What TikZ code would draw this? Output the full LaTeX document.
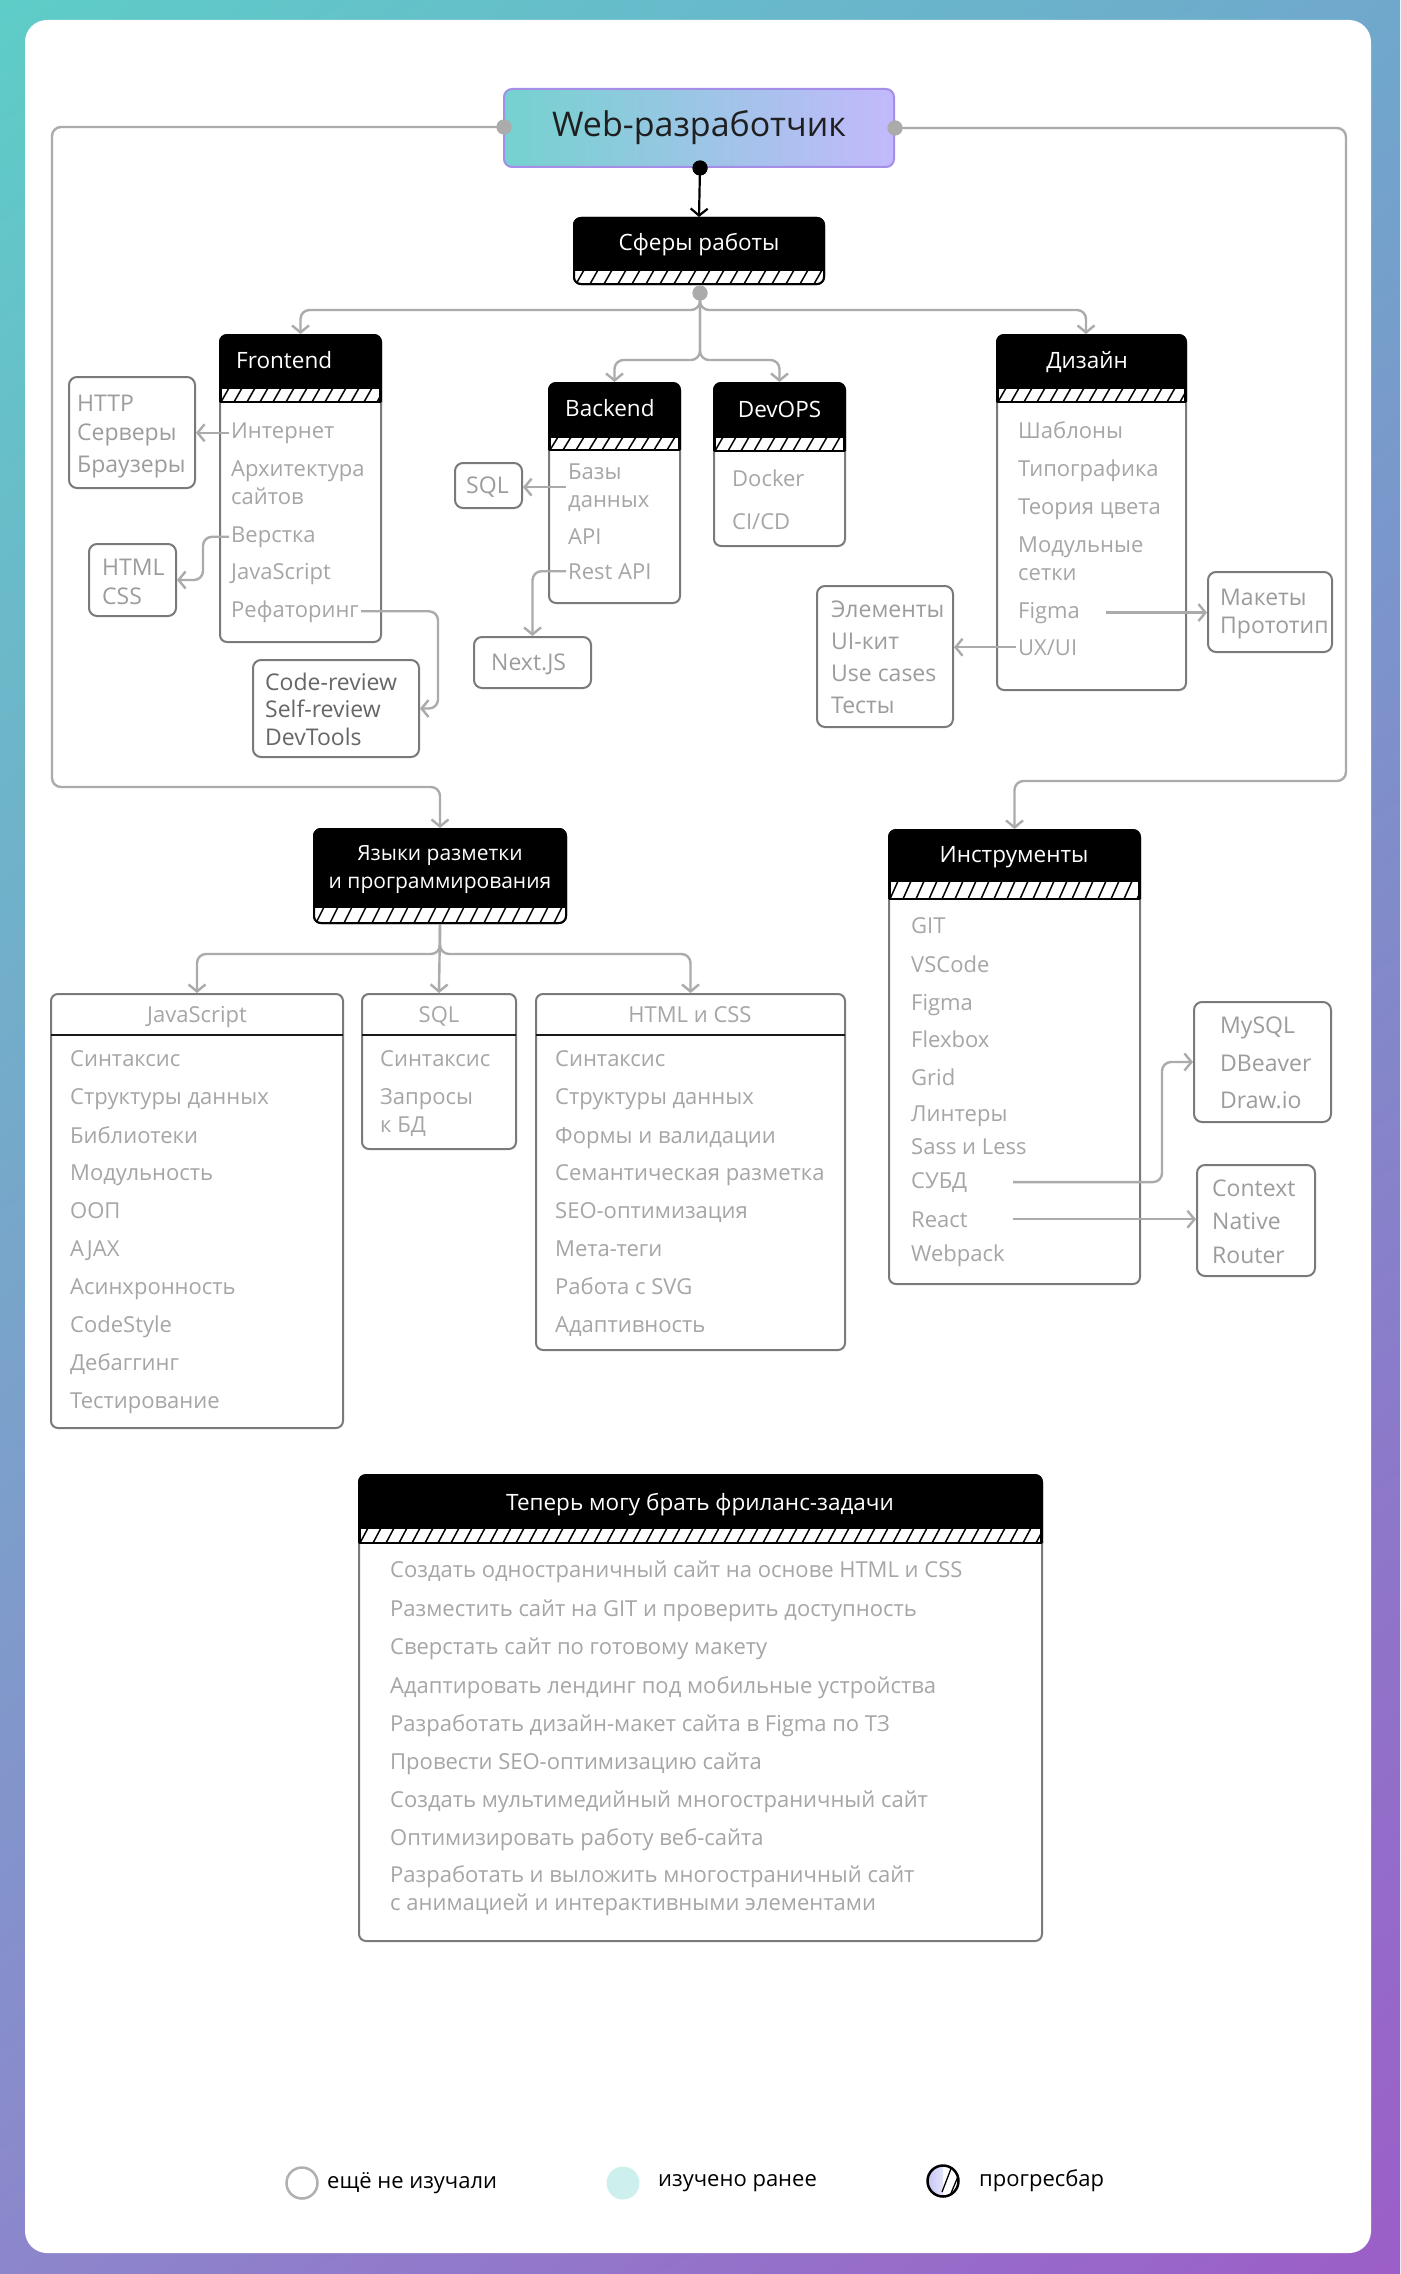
\documentclass[tikz,border=0pt]{standalone}
\usepackage{fontspec}
\setmainfont{Open Sans}
\newfontfamily\legendfont{Open Sans}
\usetikzlibrary{arrows.meta,calc,shadings}
\definecolor{bgTL}{HTML}{5ECDC8}
\definecolor{bgTR}{HTML}{70A8CC}
\definecolor{bgBL}{HTML}{8C86CC}
\definecolor{bgBR}{HTML}{9C5EC8}
\definecolor{itemc}{HTML}{A6A6A6}
\definecolor{sidec}{HTML}{9C9C9C}
\definecolor{darkc}{HTML}{666666}
\definecolor{boxc}{HTML}{7A7A7A}
\definecolor{connc}{HTML}{ABABAB}
\definecolor{titleL}{HTML}{74D2CF}
\definecolor{titleR}{HTML}{C3B9FC}
\definecolor{titleB}{HTML}{A48EE8}
\definecolor{learned}{HTML}{CDEFEE}
\definecolor{prog}{HTML}{C2C2F6}
\definecolor{legg}{HTML}{B0B0B0}

\tikzset{
  conn/.style={draw=connc, line width=2.4pt, rounded corners=9pt, -{Straight Barb[length=7pt,width=17pt]}},
  itm/.style={text=itemc, font=\fontsize{22}{26}\selectfont, inner sep=2pt, anchor=base west, xshift=-3pt},
  sidetxt/.style={itm, text=sidec, font=\fontsize{23}{27}\selectfont},
  cardtitle/.style={text=itemc, font=\fontsize{22}{26}\selectfont, inner sep=2pt, anchor=base},
  htxt/.style={text=white, font=\fontsize{22.5}{27}\selectfont, inner sep=0pt, anchor=base},
  cardnode/.style={rectangle, rounded corners=7pt, line width=2pt, fill=white, inner sep=0pt},
  sidebox/.style={rectangle, rounded corners=8pt, draw=boxc, line width=2pt, fill=white, inner sep=0pt},
  dotnode/.style={circle, inner sep=0pt, minimum size=15pt},
  legtxt/.style={anchor=west, inner sep=0pt, font=\legendfont\fontsize{22}{26}\selectfont, text=black},
}

% side box: name, x1, y1, x2, y2
\newcommand\sidebx[5]{%
  \node[sidebox, minimum width={(#4-#2)*1pt}, minimum height={(#5-#3)*1pt}] (#1) at ({(#2+#4)/2},{(#3+#5)/2}) {};}
% plain card with dark header line: name, x1, y1, x2, y2, line y
\newcommand\plaincard[6]{%
  \node[cardnode, draw=boxc, minimum width={(#4-#2)*1pt}, minimum height={(#5-#3)*1pt}] (#1) at ({(#2+#4)/2},{(#3+#5)/2}) {};
  \draw[line width=2.6pt, black!90] (#2,#6) -- (#4,#6);}
% header card: name, x1, y1, x2, y2, header bottom, hatch bottom
\newcommand\hcard[7]{%
  \node[cardnode, draw=boxc, minimum width={(#4-#2)*1pt}, minimum height={(#5-#3)*1pt}] (#1) at ({(#2+#4)/2},{(#3+#5)/2}) {};
  \begin{scope}
    \clip[rounded corners=7pt] (#2,#3) rectangle (#4,#5);
    \fill[black] (#2,#3) rectangle (#4,#6);
    \fill[white] (#2,#6) rectangle (#4,#7);
    \pgfmathsetmacro\hsA{#2-12}\pgfmathsetmacro\hsB{#2+1}
    \foreach \hx in {\hsA,\hsB,...,#4} \draw[line width=1.5pt] (\hx,#7) -- (\hx+8,#6);
    \draw[line width=2.2pt] (#2,#6) -- (#4,#6) (#2,#7) -- (#4,#7);
    \draw[line width=4pt] (#2,#3) -- (#2,#7) (#4,#3) -- (#4,#7);
  \end{scope}
  \draw[line width=2pt, rounded corners=7pt] (#2,#7) -- (#2,#3) -- (#4,#3) -- (#4,#7);}
% black card with hatch at bottom: name, x1, y1, x2, y2, header bottom
\newcommand\bcard[6]{%
  \node[cardnode, fill=black, draw=black, minimum width={(#4-#2)*1pt}, minimum height={(#5-#3)*1pt}] (#1) at ({(#2+#4)/2},{(#3+#5)/2}) {};
  \begin{scope}
    \clip[rounded corners=7pt] (#2,#3) rectangle (#4,#5);
    \fill[white] (#2,#6) rectangle (#4,#5);
    \pgfmathsetmacro\hsA{#2-12}\pgfmathsetmacro\hsB{#2+2}
    \foreach \hx in {\hsA,\hsB,...,#4} \draw[line width=1.5pt] (\hx,#5) -- (\hx+8,#6);
    \draw[line width=2.2pt] (#2,#6) -- (#4,#6);
  \end{scope}
  \draw[line width=2pt, rounded corners=7pt] (#2,#3) rectangle (#4,#5);}
\newcommand\itm[4]{\node[itm] (#1) at (#2,#3) {#4};}
\newcommand\stx[4]{\node[sidetxt] (#1) at (#2,#3) {#4};}

\begin{document}
\begin{tikzpicture}[x=1pt,y=-1pt]
\useasboundingbox (0,0) rectangle (1400,2274);
\shade[upper left=bgTL, upper right=bgTR, lower left=bgBL, lower right=bgBR] (0,0) rectangle (1400,2274);
\fill[white, rounded corners=22pt] (25,20) rectangle (1371,2253);

% ---------- title ----------
\node[rectangle, rounded corners=8pt, left color=titleL, right color=titleR, draw=titleB, line width=2pt,
      minimum width=390pt, minimum height=78pt, inner sep=0pt, font=\fontsize{34}{40}\selectfont, text=black!88]
      (web) at (699,128) {Web-разработчик};

% ---------- level 1 ----------
\bcard{sf}{574}{218}{824}{284}{270}
\node[htxt] (sfT) at (699,251) {Сферы работы};

\hcard{fe}{220}{335}{381}{642}{388}{402}
\node[htxt, anchor=base west] (feT) at (236,368) {Frontend};
\itm{fe1}{232}{438}{Интернет}
\itm{fe2}{232}{476}{Архитектура}
\itm{fe3}{232}{504}{сайтов}
\itm{fe4}{232}{542}{Верстка}
\itm{fe5}{232}{579}{JavaScript}
\itm{fe6}{232}{617}{Рефаторинг}

\hcard{be}{549}{383}{680}{603}{437}{450}
\node[htxt, anchor=base west] (beT) at (565,416) {Backend};
\itm{be1}{569}{479}{Базы}
\itm{be2}{569}{507}{данных}
\itm{be3}{569}{544}{API}
\itm{be4}{569}{579}{Rest API}

\hcard{do}{714}{383}{845}{546}{437}{451}
\node[htxt] (doT) at (779.5,417) {DevOPS};
\itm{do1}{733}{486}{Docker}
\itm{do2}{733}{529}{CI/CD}

\hcard{dz}{997}{335}{1186}{690}{388}{402}
\node[htxt] (dzT) at (1087,368) {Дизайн};
\itm{dz1}{1019}{438}{Шаблоны}
\itm{dz2}{1019}{476}{Типографика}
\itm{dz3}{1019}{514}{Теория цвета}
\itm{dz4}{1019}{552}{Модульные}
\itm{dz5}{1019}{580}{сетки}
\itm{dz6}{1019}{618}{Figma}
\itm{dz7}{1019}{655}{UX/UI}

% ---------- side boxes level 1 ----------
\sidebx{http}{69}{377}{195}{488}
\stx{http1}{78}{411}{HTTP}
\stx{http2}{78}{440}{Серверы}
\stx{http3}{78}{472}{Браузеры}

\sidebx{hcss}{89}{544}{176}{616}
\stx{hcss1}{103}{575}{HTML}
\stx{hcss2}{103}{604}{CSS}

\sidebx{cr}{253}{660}{419}{757}
\node[sidetxt, text=darkc] (cr1) at (266,690) {Code-review};
\node[sidetxt, text=darkc] (cr2) at (266,717) {Self-review};
\node[sidetxt, text=darkc] (cr3) at (266,745) {DevTools};

\sidebx{sqlb}{455}{463}{522}{508}
\stx{sqlb1}{467}{493}{SQL}

\sidebx{nx}{474}{637}{591}{688}
\stx{nx1}{492}{670}{Next.JS}

\sidebx{el}{817}{586}{953}{727}
\stx{el1}{832}{617}{Элементы}
\stx{el2}{832}{649}{UI-кит}
\stx{el3}{832}{681}{Use cases}
\stx{el4}{832}{713}{Тесты}

\sidebx{mk}{1208}{572}{1332}{652}
\stx{mk1}{1221}{605}{Макеты}
\stx{mk2}{1221}{633}{Прототип}

% ---------- level 2 ----------
\bcard{ya}{314}{829}{566}{923}{907}
\node[htxt, font=\fontsize{21}{25}\selectfont] (yaT1) at (440,860) {Языки разметки};
\node[htxt, font=\fontsize{21}{25}\selectfont] (yaT2) at (440,888) {и программирования};

\hcard{in}{889}{830}{1140}{1284}{881}{899}
\node[htxt] (inT) at (1014,862.5) {Инструменты};
\itm{in1}{912}{933}{GIT}
\itm{in2}{912}{972}{VSCode}
\itm{in3}{912}{1010}{Figma}
\itm{in4}{912}{1047}{Flexbox}
\itm{in5}{912}{1085}{Grid}
\itm{in6}{912}{1121}{Линтеры}
\itm{in7}{912}{1154}{Sass и Less}
\itm{in8}{912}{1188}{СУБД}
\itm{in9}{912}{1227}{React}
\itm{in10}{912}{1261}{Webpack}

\sidebx{my}{1194}{1002}{1331}{1122}
\stx{my1}{1221}{1033}{MySQL}
\stx{my2}{1221}{1071}{DBeaver}
\stx{my3}{1221}{1108}{Draw.io}

\sidebx{ctx}{1197}{1165}{1315}{1276}
\stx{ctx1}{1213}{1196}{Context}
\stx{ctx2}{1213}{1229}{Native}
\stx{ctx3}{1213}{1263}{Router}

% ---------- languages ----------
\plaincard{js}{51}{994}{343}{1428}{1035}
\node[cardtitle] (jsT) at (197,1022) {JavaScript};
\itm{js1}{71}{1066}{Синтаксис}
\itm{js2}{71}{1104}{Структуры данных}
\itm{js3}{71}{1143}{Библиотеки}
\itm{js4}{71}{1180}{Модульность}
\itm{js5}{71}{1218}{ООП}
\itm{js6}{71}{1256}{AJAX}
\itm{js7}{71}{1294}{Асинхронность}
\itm{js8}{71}{1332}{CodeStyle}
\itm{js9}{71}{1370}{Дебаггинг}
\itm{js10}{71}{1408}{Тестирование}

\plaincard{sq}{362}{994}{516}{1149}{1035}
\node[cardtitle] (sqT) at (439,1022) {SQL};
\itm{sq1}{381}{1066}{Синтаксис}
\itm{sq2}{381}{1104}{Запросы}
\itm{sq3}{381}{1132}{к БД}

\plaincard{hc}{536}{994}{845}{1350}{1035}
\node[cardtitle] (hcT) at (690,1022) {HTML и CSS};
\itm{hc1}{556}{1066}{Синтаксис}
\itm{hc2}{556}{1104}{Структуры данных}
\itm{hc3}{556}{1143}{Формы и валидации}
\itm{hc4}{556}{1180}{Семантическая разметка}
\itm{hc5}{556}{1218}{SEO-оптимизация}
\itm{hc6}{556}{1256}{Мета-теги}
\itm{hc7}{556}{1294}{Работа с SVG}
\itm{hc8}{556}{1332}{Адаптивность}

% ---------- freelance ----------
\hcard{fl}{359}{1475}{1042}{1941}{1528}{1543}
\node[htxt] (flT) at (700,1510) {Теперь могу брать фриланс-задачи};
\itm{fl1}{391}{1577}{Создать одностраничный сайт на основе HTML и CSS}
\itm{fl2}{391}{1616}{Разместить сайт на GIT и проверить доступность}
\itm{fl3}{391}{1654}{Сверстать сайт по готовому макету}
\itm{fl4}{391}{1693}{Адаптировать лендинг под мобильные устройства}
\itm{fl5}{391}{1731}{Разработать дизайн-макет сайта в Figma по ТЗ}
\itm{fl6}{391}{1769}{Провести SEO-оптимизацию сайта}
\itm{fl7}{391}{1807}{Создать мультимедийный многостраничный сайт}
\itm{fl8}{391}{1845}{Оптимизировать работу веб-сайта}
\itm{fl9}{391}{1882}{Разработать и выложить многостраничный сайт}
\itm{fl10}{391}{1910}{с анимацией и интерактивными элементами}

% ---------- dots ----------
\node[dotnode, fill=connc] (dl) at (504,127) {};
\node[dotnode, fill=connc] (dr) at (895,128) {};
\node[dotnode, fill=black] (db) at (700,168) {};
\node[dotnode, fill=connc] (dg) at (700,293) {};

% ---------- connectors ----------
\draw[line width=2.2pt, black, -{Straight Barb[length=7pt,width=17pt]}] (db.center) -- (sf.north);
\draw[conn] (dg.center) -- (700,310) -- (300.5,310) -- (fe.north);
\draw[conn] (dg.center) -- (700,310) -- (1086,310) -- ([xshift=-5.5pt]dz.north);
\draw[conn] (dg.center) -- (700,360) -- (614.5,360) -- (be.north);
\draw[conn] (dg.center) -- (700,360) -- (779.5,360) -- (do.north);
\draw[conn] (dl.center) -- (52,127) -- (52,787) -- (440,787) -- (ya.north);
\draw[conn] (dr.center) -- (1346,128) -- (1346,781) -- (1014.5,781) -- (in.north);
\draw[conn] (ya.south) -- (440,954) -- (197,954) -- (js.north);
\draw[conn] (ya.south) -- (sq.north);
\draw[conn] (ya.south) -- (440,954) -- (690.5,954) -- (hc.north);

\draw[conn] (fe1.west) -- (fe1.west -| http.east);
\draw[conn] (fe4.west) -| (203,580) -- (hcss.east);
\draw[conn] (fe6.east) -| (438,708.5) -- (cr.east);
\coordinate (bedb) at ($(be1.west)!0.5!(be2.west)$);
\draw[conn] (bedb) -- (bedb -| sqlb.east);
\draw[conn] (be4.west) -| (nx.north);
\coordinate (figS) at (dz6.east -| 1106,0);
\draw[conn] (figS) -- (figS -| mk.west);
\draw[conn] (dz7.west) -- (dz7.west -| el.east);
\coordinate (subS) at (in8.east -| 1013,0);
\draw[conn] (subS) -| (1162,1062) -- (my.west);
\coordinate (reS) at (in9.east -| 1013,0);
\draw[conn] (reS) -- (reS -| ctx.west);

% redraw dots on top
\node[dotnode, fill=connc] at (dl) {};
\node[dotnode, fill=connc] at (dr) {};
\node[dotnode, fill=black] at (db) {};
\node[dotnode, fill=connc] at (dg) {};

% ---------- legend ----------
\node[circle, draw=legg, line width=2.5pt, minimum size=31pt, inner sep=0pt] (lg1) at (302,2183) {};
\node[legtxt] (lt1) at (327,2183) {ещё не изучали};
\node[circle, fill=learned, minimum size=33pt, inner sep=0pt] (lg2) at (623,2183) {};
\node[legtxt] (lt2) at (658,2183) {изучено ранее};
\begin{scope}
  \clip (943,2181) circle (15.5pt);
  \fill[white] (926,2164) rectangle (960,2198);
  \shade[left color=prog, right color=prog!45!white] (926,2164) rectangle (943,2198);
  \draw[line width=1.3pt] (942,2192) -- (952,2166);
  \draw[line width=1.3pt] (949,2198) -- (959,2174);
\end{scope}
\node[circle, draw=black, line width=2.5pt, minimum size=31pt, inner sep=0pt] (lg3) at (943,2181) {};
\node[legtxt] (lt3) at (979,2181) {прогресбар};
\end{tikzpicture}
\end{document}
